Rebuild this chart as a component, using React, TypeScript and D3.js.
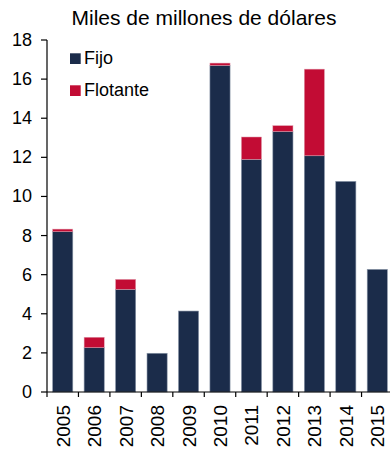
import React from "react";
import * as d3 from "d3";

const years = ["2005","2006","2007","2008","2009","2010","2011","2012","2013","2014","2015"];
const fijo = [8.2, 2.27, 5.25, 1.98, 4.14, 16.7, 11.9, 13.32, 12.08, 10.77, 6.27];
const flotante = [0.13, 0.53, 0.51, 0, 0, 0.12, 1.14, 0.3, 4.43, 0, 0];
const yTicks = [0, 2, 4, 6, 8, 10, 12, 14, 16, 18];
const title = "Miles de millones de dólares";
const seriesNames = ["Fijo", "Flotante"];

const W = 390, H = 450;
const left = 47, right = 393, top = 40, bottom = 392;
const NAVY = "#1B2C4A", RED = "#C20C34";
const FONT = "Liberation Sans, Arial, sans-serif";

export default function App() {
  const x = d3.scaleBand<string>().domain(years).range([left, right]).paddingInner(0.36).paddingOuter(0.18);
  const y = d3.scaleLinear().domain([0, 18]).range([bottom, top]);
  const step = x.step();
  const boundaries = d3.range(years.length + 1).map(i => left + i * step).filter(v => v <= W);
  return (
    <svg width={W} height={H} style={{ position: "absolute", left: 0, top: 0 }} fontFamily={FONT}>
      <rect width={W} height={H} fill="#fff" />
      <text x={204} y={25} fontSize={21} textAnchor="middle" fill="#000">{title}</text>
      {years.map((yr, i) => {
        const x0 = x(yr)!;
        const bw = x.bandwidth();
        return (
          <g key={yr}>
            <rect x={x0} y={y(fijo[i])} width={bw} height={y(0) - y(fijo[i])} fill={NAVY} stroke="#8a96a8" strokeWidth={0.6} />
            {flotante[i] > 0 && (
              <rect x={x0} y={y(fijo[i] + flotante[i])} width={bw} height={y(fijo[i]) - y(fijo[i] + flotante[i])} fill={RED} stroke="#e0a0b0" strokeWidth={0.5} />
            )}
          </g>
        );
      })}
      {/* y axis */}
      <line x1={left} x2={left} y1={top} y2={bottom} stroke="#000" strokeWidth={1.2} />
      {yTicks.map(t => (
        <g key={t}>
          <line x1={left - 6} x2={left} y1={y(t)} y2={y(t)} stroke="#000" strokeWidth={1.2} />
          <text x={32} y={y(t) + 6} fontSize={18} textAnchor="end" fill="#000">{t}</text>
        </g>
      ))}
      {/* x axis */}
      <line x1={left} x2={W} y1={bottom} y2={bottom} stroke="#000" strokeWidth={1.2} />
      {boundaries.map((b, i) => (
        <line key={i} x1={b} x2={b} y1={bottom} y2={bottom + 5} stroke="#000" strokeWidth={1.2} />
      ))}
      {years.map(yr => {
        const cx = x(yr)! + x.bandwidth() / 2;
        return (
          <text key={yr} transform={`translate(${cx + 7},405) rotate(-90)`} fontSize={19} textAnchor="end" fill="#000">{yr}</text>
        );
      })}
      {/* legend */}
      {seriesNames.map((n, i) => (
        <g key={n}>
          <rect x={70} y={53.3 + i * 32} width={10.7} height={10.7} fill={i === 0 ? NAVY : RED} />
          <text x={84} y={64 + i * 32} fontSize={18} fill="#000">{n}</text>
        </g>
      ))}
    </svg>
  );
}
